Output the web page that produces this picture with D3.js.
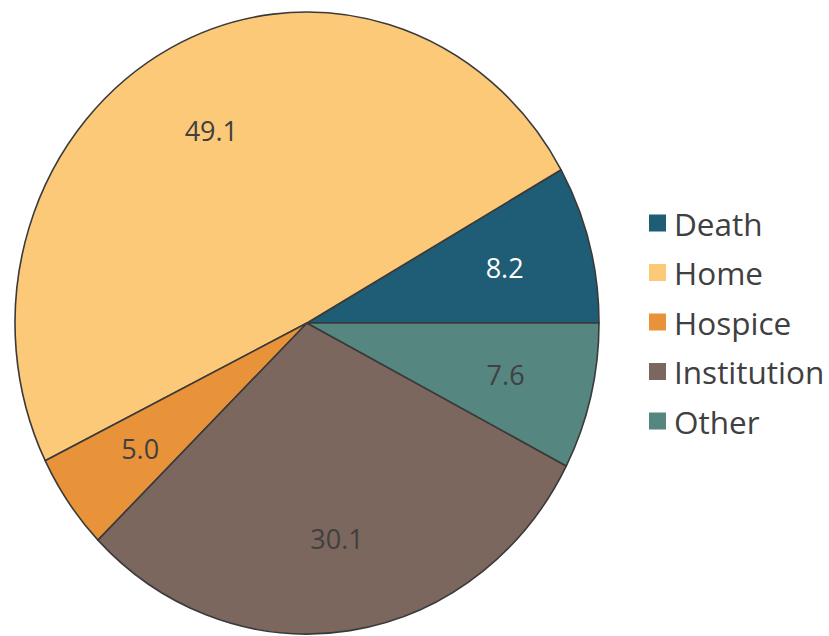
<!DOCTYPE html>
<html>
<head>
<meta charset="utf-8">
<script src="https://cdn.jsdelivr.net/npm/d3@7"></script>
<style>
  body { margin: 0; background: #fff; }
  text { font-family: "Open Sans", "Noto Sans", sans-serif; }
</style>
</head>
<body>
<svg id="chart"></svg>
<script>
const chartWidth = 829;
const chartHeight = 636;

const categories = ["Death", "Home", "Hospice", "Institution", "Other"];
const values = [8.2, 49.1, 5.0, 30.1, 7.6];
const labels = ["8.2", "49.1", "5.0", "30.1", "7.6"];
const colors = ["#1f5c75", "#fcc979", "#e8933a", "#7b675e", "#568680"];
const labelColors = ["#ffffff", "#404040", "#404040", "#404040", "#404040"];

// the pie in the reference is slightly taller than wide
const CX = 307, CY = 323;
const RX = 292, RY = 311;
const LABEL_R = 0.7;

const svg = d3.select("#chart")
    .attr("width", chartWidth)
    .attr("height", chartHeight);

const data = categories.map((c, i) => ({name: c, value: values[i], i: i}));

// counter-clockwise from 3 o'clock
const pie = d3.pie()
    .sort(null)
    .value(d => d.value)
    .startAngle(Math.PI / 2)
    .endAngle(Math.PI / 2 - 2 * Math.PI);

const arcs = pie(data);
const arc = d3.arc().innerRadius(0).outerRadius(RX);
const labelArc = d3.arc().innerRadius(RX * LABEL_R).outerRadius(RX * LABEL_R);

const pieG = svg.append("g")
    .attr("transform", `translate(${CX},${CY}) scale(1,${RY / RX})`);

pieG.selectAll("path")
    .data(arcs)
    .join("path")
    .attr("d", arc)
    .attr("fill", d => colors[d.data.i])
    .attr("stroke", "#3a3a3a")
    .attr("stroke-width", 1.6)
    .attr("stroke-linejoin", "round")
    .attr("vector-effect", "non-scaling-stroke");

svg.append("g")
    .selectAll("text")
    .data(arcs)
    .join("text")
    .attr("x", d => CX + labelArc.centroid(d)[0])
    .attr("y", d => CY + labelArc.centroid(d)[1] * RY / RX)
    .attr("text-anchor", "middle")
    .attr("dominant-baseline", "central")
    .attr("font-size", 27)
    .attr("fill", d => labelColors[d.data.i])
    .text(d => labels[d.data.i]);

// legend
const legendY = d3.scalePoint().domain(categories).range([223, 421]);
const legend = svg.append("g");

legend.selectAll("rect")
    .data(categories)
    .join("rect")
    .attr("x", 649)
    .attr("y", d => legendY(d) - 8.5)
    .attr("width", 17)
    .attr("height", 17)
    .attr("fill", (d, i) => colors[i]);

legend.selectAll("text")
    .data(categories)
    .join("text")
    .attr("x", 674)
    .attr("y", d => legendY(d))
    .attr("dominant-baseline", "central")
    .attr("font-size", 31.5)
    .attr("fill", "#404040")
    .text(d => d);
</script>
</body>
</html>
